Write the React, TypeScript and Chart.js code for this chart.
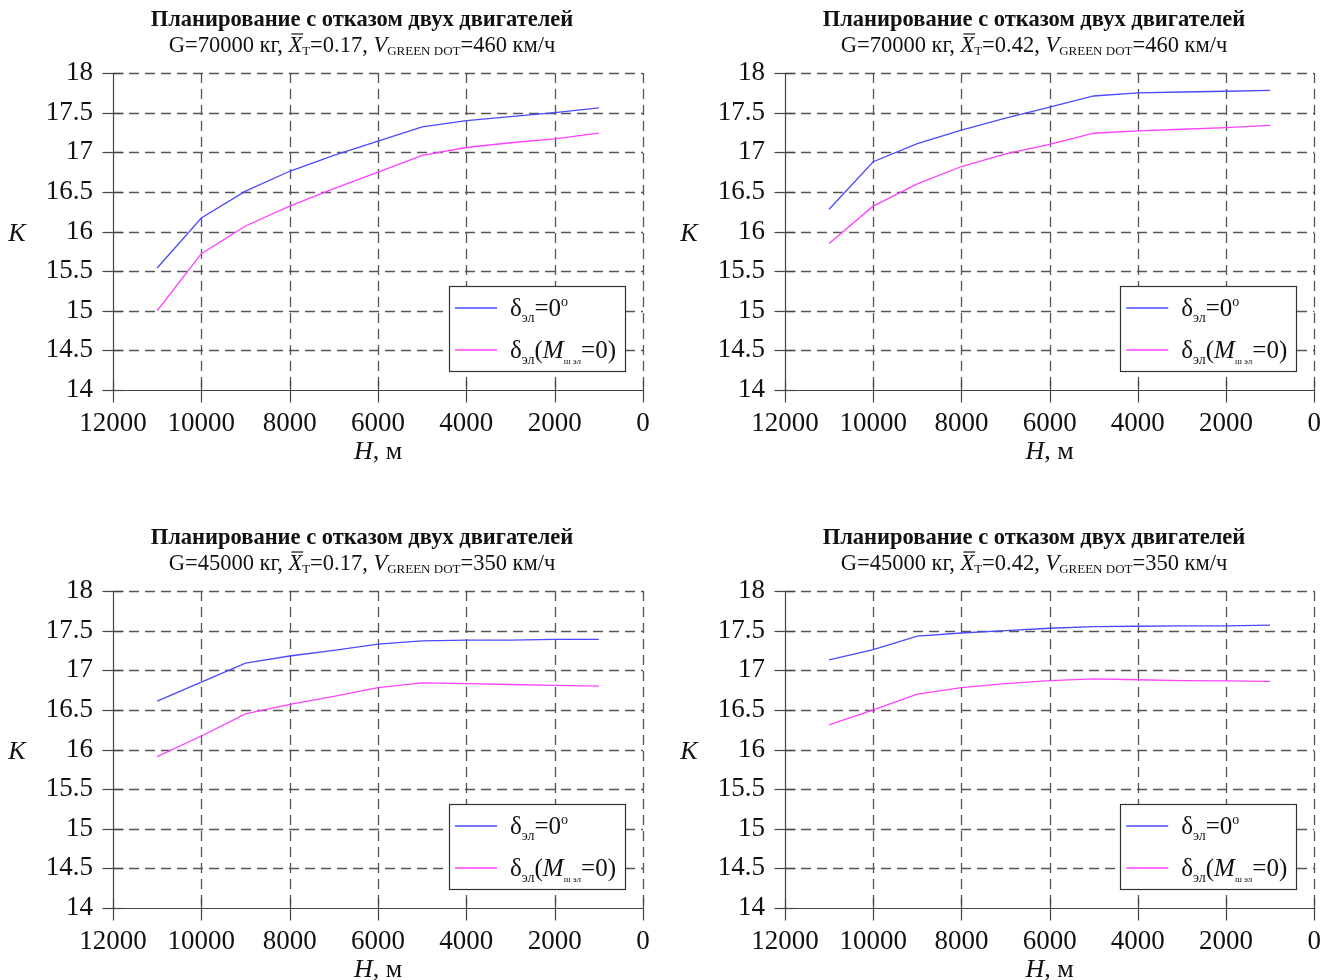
import { useEffect, useRef } from "react";
import { Chart, registerables } from "chart.js";

Chart.register(...registerables);

// ---- data ----
const altitudes = [11000, 10000, 9000, 8000, 7000, 6000, 5000, 4000, 3000, 2000, 1000];

const kZero1 = [15.54, 16.17, 16.51, 16.76, 16.96, 17.14, 17.32, 17.40, 17.45, 17.50, 17.56];
const kTrim1 = [15.0, 15.72, 16.07, 16.32, 16.54, 16.75, 16.96, 17.06, 17.12, 17.17, 17.24];

const kZero2 = [16.28, 16.88, 17.11, 17.28, 17.43, 17.57, 17.71, 17.75, 17.76, 17.77, 17.78];
const kTrim2 = [15.85, 16.32, 16.60, 16.82, 16.98, 17.10, 17.24, 17.27, 17.29, 17.31, 17.34];

const kZero3 = [16.61, 16.85, 17.09, 17.18, 17.25, 17.33, 17.37, 17.38, 17.38, 17.39, 17.39];
const kTrim3 = [15.91, 16.17, 16.45, 16.57, 16.67, 16.78, 16.84, 16.83, 16.82, 16.81, 16.80];

const kZero4 = [17.13, 17.26, 17.43, 17.47, 17.50, 17.53, 17.55, 17.555, 17.56, 17.56, 17.57];
const kTrim4 = [16.31, 16.50, 16.70, 16.78, 16.83, 16.87, 16.89, 16.88, 16.87, 16.865, 16.86];

const titleMain = "Планирование с отказом двух двигателей";
const weights = ["70000", "70000", "45000", "45000"];
const xtValues = ["0.17", "0.42", "0.17", "0.42"];
const vgdValues = ["460", "460", "350", "350"];
const seriesZero = [kZero1, kZero2, kZero3, kZero4];
const seriesTrim = [kTrim1, kTrim2, kTrim3, kTrim4];

const xMin = 0;
const xMax = 12000;
const xStep = 2000;
const yMin = 14;
const yMax = 18;
const yStep = 0.5;

const BLUE = "#4a4aff";
const MAGENTA = "#ff40ff";
const SERIF = "'Liberation Serif', 'DejaVu Serif', serif";

type Run = { t: string; f: string; dy?: number; bar?: boolean };

function drawRuns(ctx: CanvasRenderingContext2D, runs: Run[], x: number, y: number, align: "left" | "center") {
  const widths = runs.map((r) => {
    ctx.font = r.f;
    return ctx.measureText(r.t).width;
  });
  const total = widths.reduce((a, b) => a + b, 0);
  let cx = align === "center" ? x - total / 2 : x;
  ctx.textAlign = "left";
  ctx.textBaseline = "alphabetic";
  runs.forEach((r, i) => {
    ctx.font = r.f;
    ctx.fillText(r.t, cx, y + (r.dy || 0));
    if (r.bar) {
      ctx.save();
      ctx.strokeStyle = ctx.fillStyle as string;
      ctx.lineWidth = 1.2;
      ctx.beginPath();
      ctx.moveTo(cx + 3, y - 18);
      ctx.lineTo(cx + widths[i] + 1, y - 18);
      ctx.stroke();
      ctx.restore();
    }
    cx += widths[i];
  });
}

const PLOT_LEFT = 113;
const PLOT_RIGHT = 643;
const PLOT_TOP = 73;
const PLOT_BOTTOM = 390;

function Panel({ idx, width, height }: { idx: number; width: number; height: number }) {
  const ref = useRef<HTMLCanvasElement | null>(null);
  useEffect(() => {
    const canvas = ref.current;
    if (!canvas) return;
    const decor = {
      id: "decor" + idx,
      beforeDatasetsDraw(chart: any) {
        const ctx: CanvasRenderingContext2D = chart.ctx;
        const xs = chart.scales.x;
        const ys = chart.scales.y;
        const a = chart.chartArea;
        ctx.save();
        // dashed grid
        ctx.strokeStyle = "#555";
        ctx.lineWidth = 1.3;
        ctx.setLineDash([10, 6]);
        for (let v = yMin + yStep; v <= yMax + 1e-9; v += yStep) {
          const py = Math.round(ys.getPixelForValue(v)) + 0.5;
          ctx.beginPath();
          ctx.moveTo(a.left, py);
          ctx.lineTo(a.right, py);
          ctx.stroke();
        }
        for (let v = xMin; v < xMax; v += xStep) {
          const px = Math.round(xs.getPixelForValue(v)) + 0.5;
          ctx.beginPath();
          ctx.moveTo(px, a.top);
          ctx.lineTo(px, a.bottom);
          ctx.stroke();
        }
        ctx.setLineDash([]);
        // spines
        ctx.strokeStyle = "#444";
        ctx.lineWidth = 1.2;
        const lx = Math.round(xs.getPixelForValue(xMax)) + 0.5;
        const by = Math.round(ys.getPixelForValue(yMin)) + 0.5;
        ctx.beginPath();
        ctx.moveTo(lx, a.top);
        ctx.lineTo(lx, by);
        ctx.lineTo(a.right, by);
        ctx.stroke();
        // ticks crossing the spines
        for (let v = yMin; v <= yMax + 1e-9; v += yStep) {
          const py = Math.round(ys.getPixelForValue(v)) + 0.5;
          ctx.beginPath();
          ctx.moveTo(lx - 11, py);
          ctx.lineTo(lx + 10, py);
          ctx.stroke();
        }
        for (let v = xMin; v <= xMax; v += xStep) {
          const px = Math.round(xs.getPixelForValue(v)) + 0.5;
          ctx.beginPath();
          ctx.moveTo(px, by - 10);
          ctx.lineTo(px, by + 12);
          ctx.stroke();
        }
        ctx.restore();
      },
      afterDatasetsDraw(chart: any) {
        const ctx: CanvasRenderingContext2D = chart.ctx;
        const a = chart.chartArea;
        const cxTitle = 362;
        ctx.save();
        ctx.fillStyle = "#111";
        // titles
        drawRuns(ctx, [{ t: titleMain, f: `bold 22.5px ${SERIF}` }], cxTitle, 26, "center");
        drawRuns(
          ctx,
          [
            { t: `G=${weights[idx]} кг, `, f: `22.5px ${SERIF}` },
            { t: "X", f: `italic 22.5px ${SERIF}`, bar: true },
            { t: "Т", f: `13px ${SERIF}`, dy: 3 },
            { t: `=${xtValues[idx]}, `, f: `22.5px ${SERIF}` },
            { t: "V", f: `italic 22.5px ${SERIF}` },
            { t: "GREEN DOT", f: `13px ${SERIF}`, dy: 3 },
            { t: `=${vgdValues[idx]} км/ч`, f: `22.5px ${SERIF}` },
          ],
          cxTitle,
          52,
          "center"
        );
        // axis titles
        drawRuns(ctx, [{ t: "K", f: `italic 26px ${SERIF}` }], 17, (a.top + a.bottom) / 2 + 9, "center");
        drawRuns(
          ctx,
          [
            { t: "H", f: `italic 26px ${SERIF}` },
            { t: ", м", f: `26px ${SERIF}` },
          ],
          (a.left + a.right) / 2,
          459,
          "center"
        );
        // legend
        const bx = a.right - 194;
        const byTop = a.bottom - 104;
        const bw = 176;
        const bh = 85;
        ctx.fillStyle = "#fff";
        ctx.fillRect(bx, byTop, bw, bh);
        ctx.strokeStyle = "#333";
        ctx.lineWidth = 1.2;
        ctx.strokeRect(Math.round(bx) + 0.5, Math.round(byTop) + 0.5, bw, bh);
        const ds = chart.data.datasets;
        const rows: Run[][] = [
          [
            { t: "δ", f: `25px ${SERIF}` },
            { t: "эл", f: `14px ${SERIF}`, dy: 6 },
            { t: "=0", f: `25px ${SERIF}` },
            { t: "o", f: `14px ${SERIF}`, dy: -10 },
          ],
          [
            { t: "δ", f: `25px ${SERIF}` },
            { t: "эл", f: `14px ${SERIF}`, dy: 6 },
            { t: "(", f: `25px ${SERIF}` },
            { t: "M", f: `italic 25px ${SERIF}` },
            { t: "ш эл", f: `9px ${SERIF}`, dy: 6 },
            { t: "=0)", f: `25px ${SERIF}` },
          ],
        ];
        rows.forEach((row, i) => {
          const ly = byTop + 22 + i * 42;
          ctx.strokeStyle = ds[i].borderColor;
          ctx.lineWidth = 1.3;
          ctx.beginPath();
          ctx.moveTo(bx + 6, ly);
          ctx.lineTo(bx + 48, ly);
          ctx.stroke();
          ctx.fillStyle = "#111";
          drawRuns(ctx, row, bx + 61, ly + 8, "left");
        });
        ctx.restore();
      },
    };

    const toPts = (ys: number[]) => altitudes.map((h, i) => ({ x: h, y: ys[i] }));

    const chart = new Chart(canvas, {
      type: "line",
      data: {
        datasets: [
          {
            label: "δэл=0°",
            data: toPts(seriesZero[idx]),
            borderColor: BLUE,
            borderWidth: 1.3,
            pointRadius: 0,
            tension: 0,
            fill: false,
          },
          {
            label: "δэл(Mш эл=0)",
            data: toPts(seriesTrim[idx]),
            borderColor: MAGENTA,
            borderWidth: 1.3,
            pointRadius: 0,
            tension: 0,
            fill: false,
          },
        ],
      },
      options: {
        animation: false,
        responsive: false,
        devicePixelRatio: 1,
        layout: { padding: { top: PLOT_TOP, left: 0, right: width - PLOT_RIGHT, bottom: 0 } },
        plugins: { legend: { display: false }, tooltip: { enabled: false }, title: { display: false } },
        scales: {
          x: {
            type: "linear",
            reverse: true,
            min: xMin,
            max: xMax,
            afterFit: (s: any) => {
              s.height = height - PLOT_BOTTOM;
            },
            ticks: {
              stepSize: xStep,
              padding: 18,
              color: "#111",
              font: { family: SERIF, size: 27 },
              maxRotation: 0,
              autoSkip: false,
              callback: (v: any) => String(v),
            },
            grid: { display: false, drawTicks: false, tickLength: 0 },
            border: { display: false },
          },
          y: {
            type: "linear",
            min: yMin,
            max: yMax,
            afterFit: (s: any) => {
              s.width = PLOT_LEFT;
            },
            ticks: {
              stepSize: yStep,
              padding: 20,
              color: "#111",
              font: { family: SERIF, size: 27 },
              autoSkip: false,
              callback: (v: any) => String(v),
            },
            grid: { display: false, drawTicks: false, tickLength: 0 },
            border: { display: false },
          },
        },
      },
      plugins: [decor],
    } as any);
    return () => chart.destroy();
  }, [idx, width, height]);
  return <canvas ref={ref} width={width} height={height} style={{ display: "block", width, height }} />;
}

export default function App() {
  const cols = [
    { left: 0, width: 672 },
    { left: 672, width: 667 },
  ];
  const rows = [
    { top: 0, height: 518 },
    { top: 518, height: 462 },
  ];
  return (
    <div style={{ position: "absolute", left: 0, top: 0, width: 1339, height: 980, background: "#fff", overflow: "hidden" }}>
      {[0, 1, 2, 3].map((i) => {
        const c = cols[i % 2];
        const r = rows[Math.floor(i / 2)];
        return (
          <div key={i} style={{ position: "absolute", left: c.left, top: r.top, width: c.width, height: r.height }}>
            <Panel idx={i} width={c.width} height={r.height} />
          </div>
        );
      })}
    </div>
  );
}
